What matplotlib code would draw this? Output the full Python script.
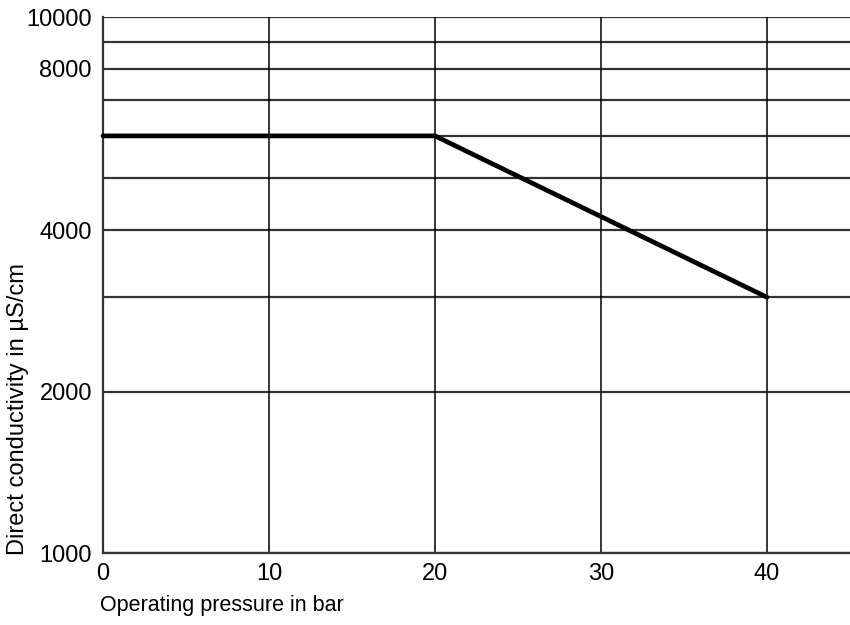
import matplotlib
matplotlib.use("Agg")
import matplotlib.pyplot as plt
from matplotlib.ticker import FixedLocator, NullFormatter

# Kurve: ledningsevne mot driftstrykk
pressure_bar = [0, 20, 40]
conductivity_us = [6000, 6000, 3000]

x_ticks = [0, 10, 20, 30, 40]
y_grid = [1000, 2000, 3000, 4000, 5000, 6000, 7000, 8000, 9000, 10000]
y_tick_labels = [1000, 2000, 4000, 8000, 10000]

plt.rcParams["font.family"] = ["Liberation Sans", "DejaVu Sans"]

fig = plt.figure(figsize=(8.5, 6.25), dpi=100)
ax = fig.add_axes([103 / 850, 1 - 553 / 625, 1 - 103 / 850, (553 - 17) / 625])

ax.set_yscale("log")
ax.set_xlim(0, 45)
ax.set_ylim(1000, 10000)

# Rutenett tegnes som linjer
for y in y_grid:
    ax.axhline(y, color="#333333", linewidth=1.6, zorder=1)
for x in x_ticks[1:]:
    ax.axvline(x, color="black", linewidth=1.1, zorder=1)

ax.plot(pressure_bar, conductivity_us, color="black", linewidth=3.4,
        solid_capstyle="round", zorder=3, clip_on=False)

ax.set_xticks(x_ticks)
ax.yaxis.set_major_locator(FixedLocator(y_tick_labels))
ax.yaxis.set_minor_locator(FixedLocator([]))
ax.yaxis.set_minor_formatter(NullFormatter())
ax.set_yticklabels([str(v) for v in y_tick_labels])
ax.tick_params(axis="both", length=0, labelsize=17)
ax.tick_params(axis="y", pad=8)
ax.tick_params(axis="x", pad=7)

for side in ["top", "right"]:
    ax.spines[side].set_visible(False)
for side in ["left", "bottom"]:
    ax.spines[side].set_linewidth(1.6)
    ax.spines[side].set_color("#333333")

fig.text(100 / 850, 1 - 606 / 625, "Operating pressure in bar",
         ha="left", va="center", fontsize=15.5)
fig.text(18 / 850, 1 - 555 / 625, "Direct conductivity in µS/cm",
         ha="center", va="bottom", rotation=90, fontsize=17)

fig.savefig("out.png", dpi=100)
plt.close(fig)
